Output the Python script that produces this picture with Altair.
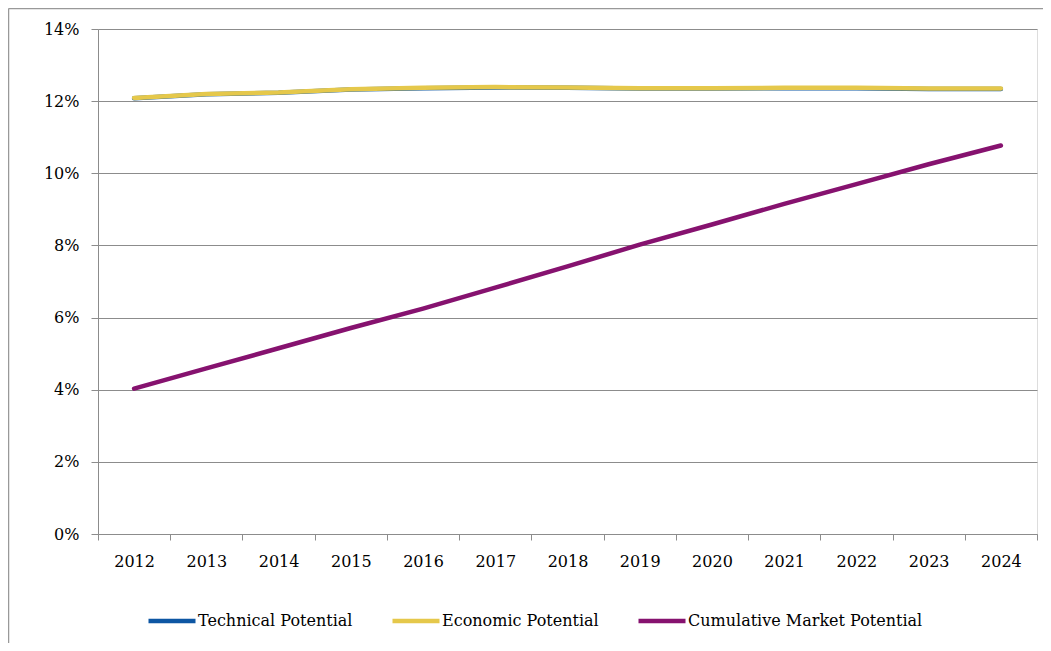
import altair as alt
import pandas as pd

years = [str(y) for y in range(2012, 2025)]
technical = [12.08, 12.19, 12.23, 12.32, 12.36, 12.38, 12.37, 12.35, 12.35, 12.36, 12.36, 12.34, 12.34]
economic = [12.09, 12.20, 12.24, 12.33, 12.37, 12.39, 12.38, 12.36, 12.36, 12.37, 12.37, 12.35, 12.35]
cumulative = [4.03, 4.59, 5.15, 5.71, 6.25, 6.83, 7.42, 8.02, 8.58, 9.15, 9.70, 10.25, 10.77]

series_names = ["Technical Potential", "Economic Potential", "Cumulative Market Potential"]
series_colors = ["#0d56a3", "#e5c84b", "#86126f"]
series_values = [technical, economic, cumulative]

rows = []
for name, vals in zip(series_names, series_values):
    for yr, v in zip(years, vals):
        rows.append({"Year": yr, "Value": v, "Series": name})
df = pd.DataFrame(rows)

FONT = "DejaVu Serif"
GRID = "#8c8c8c"
FS = 16
W, H = 939, 505

lines = alt.Chart(df).mark_line(strokeWidth=4.5, strokeCap="round", strokeJoin="round").encode(
    x=alt.X("Year:O", sort=years,
            scale=alt.Scale(type="band", paddingInner=0, paddingOuter=0),
            axis=alt.Axis(title=None, labelAngle=0, tickBand="extent", grid=False,
                          domainColor=GRID, tickColor=GRID, tickSize=6,
                          labelPadding=13, labelFontSize=FS, labelFont=FONT,
                          labelColor="#000000")),
    y=alt.Y("Value:Q", scale=alt.Scale(domain=[0, 14], nice=False),
            axis=alt.Axis(title=None, values=[0, 2, 4, 6, 8, 10, 12, 14],
                          labelExpr="datum.value + '%'", grid=True, gridColor=GRID,
                          domainColor=GRID, tickColor=GRID, tickSize=7,
                          labelPadding=12, labelFontSize=FS, labelFont=FONT,
                          labelColor="#000000")),
    color=alt.Color("Series:N",
                    scale=alt.Scale(domain=series_names, range=series_colors),
                    legend=alt.Legend(title=None, orient="none", direction="horizontal",
                                      legendX=48, legendY=566,
                                      symbolType="stroke", symbolSize=2209,
                                      symbolStrokeWidth=4.5, labelOffset=0,
                                      columnPadding=30, labelLimit=400, labelFont=FONT,
                                      labelFontSize=FS, labelColor="#000000")),
    order=alt.Order("Year:O"),
)

frame = alt.Data(values=[{"k": 1}])
left_border = alt.Chart(frame).mark_rule(color="#999999", strokeWidth=1.5).encode(
    x=alt.value(-89.5), y=alt.value(-20.5), y2=alt.value(700))
top_border = alt.Chart(frame).mark_rule(color="#999999", strokeWidth=1.5).encode(
    x=alt.value(-89.5), x2=alt.value(1100), y=alt.value(-20.5))

chart = alt.layer(lines, left_border, top_border).properties(
    width=W, height=H,
    autosize=alt.AutoSizeParams(type="none"),
    padding={"left": 90, "top": 21, "right": 6, "bottom": 109},
).configure_view(stroke=None).configure(background="white")

chart.save("out.html", embed_options={"renderer": "svg", "actions": False})
